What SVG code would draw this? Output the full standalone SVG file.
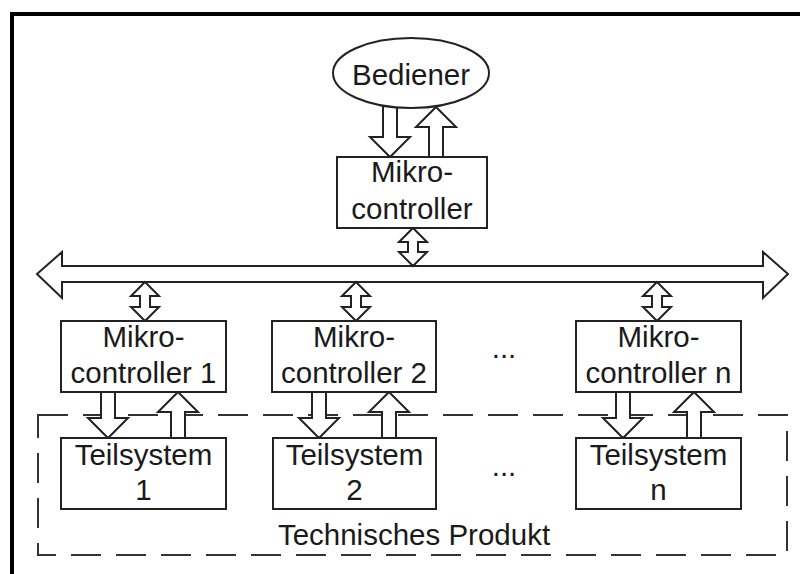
<svg xmlns="http://www.w3.org/2000/svg" width="800" height="574" viewBox="0 0 800 574">
  <style>
    .box { fill: #ffffff; stroke: #222222; stroke-width: 2; }
    .arrow { fill: #ffffff; stroke: #222222; stroke-width: 2; stroke-linejoin: miter; }
    .lbl { font-family: "Liberation Sans", Arial, sans-serif; font-size: 29.5px; fill: #1a1a1a; text-anchor: middle; }
    .frame { fill: #000000; }
    .dash { fill: none; stroke: #333333; stroke-width: 2; stroke-dasharray: 30 15; }
  </style>

  <rect width="800" height="574" fill="#ffffff"/>

  <!-- page frame (top and left edge) -->
  <rect class="frame" x="10" y="12" width="790" height="4"/>
  <rect class="frame" x="10" y="12" width="4" height="562"/>

  <!-- product boundary -->
  <g id="product">
    <rect class="dash" x="38" y="415" width="749" height="140"/>
    <text class="lbl" x="414" y="545">Technisches Produkt</text>
  </g>

  <g id="connectors">
    <!-- operator <-> main controller -->
    <polygon class="arrow" points="383,100 397,100 397,137 410,137 390,157 370,137 383,137"/>
    <polygon class="arrow" points="436,107 456,127 443,127 443,157 429,157 429,127 416,127"/>
    <!-- bus -->
    <polygon class="arrow" points="37,274 62,252 62,266 763,266 763,252 788,274 763,298 763,282 62,282 62,298"/>
    <!-- main controller <-> bus -->
    <polygon class="arrow" points="413,228 427,242 418,242 418,252 427,252 413,266 399,252 408,252 408,242 399,242"/>
    <!-- bus <-> sub-controllers -->
    <polygon class="arrow" points="145,282 159,296 150,296 150,307 159,307 145,321 131,307 140,307 140,296 131,296"/>
    <polygon class="arrow" points="356,282 370,296 361,296 361,307 370,307 356,321 342,307 351,307 351,296 342,296"/>
    <polygon class="arrow" points="657,282 671,296 662,296 662,307 671,307 657,321 643,307 652,307 652,296 643,296"/>
    <!-- controller -> subsystem (down) and subsystem -> controller (up) -->
    <polygon class="arrow" points="101,392 115,392 115,418 128,418 108,438 88,418 101,418"/>
    <polygon class="arrow" points="178,392 198,412 185,412 185,438 171,438 171,412 158,412"/>
    <polygon class="arrow" points="312,392 326,392 326,418 339,418 319,438 299,418 312,418"/>
    <polygon class="arrow" points="389,392 409,412 396,412 396,438 382,438 382,412 369,412"/>
    <polygon class="arrow" points="616,392 630,392 630,418 643,418 623,438 603,418 616,418"/>
    <polygon class="arrow" points="694,392 714,412 701,412 701,438 687,438 687,412 674,412"/>
  </g>

  <g id="bediener">
    <ellipse class="box" cx="411" cy="73" rx="78" ry="35"/>
    <text class="lbl" x="411" y="85">Bediener</text>
  </g>

  <g id="mc-main">
    <rect class="box" x="337" y="157" width="150" height="71"/>
    <text class="lbl" x="412" y="182">Mikro-</text>
    <text class="lbl" x="412" y="219">controller</text>
  </g>

  <g id="mc-1">
    <rect class="box" x="61" y="321" width="165" height="71"/>
    <text class="lbl" x="143.5" y="347">Mikro-</text>
    <text class="lbl" x="143.5" y="383">controller 1</text>
  </g>

  <g id="mc-2">
    <rect class="box" x="272" y="321" width="164" height="71"/>
    <text class="lbl" x="354" y="347">Mikro-</text>
    <text class="lbl" x="354" y="383">controller 2</text>
  </g>

  <g id="mc-dots">
    <text class="lbl" x="504" y="358">...</text>
  </g>

  <g id="mc-n">
    <rect class="box" x="576" y="321" width="165" height="71"/>
    <text class="lbl" x="658.5" y="347">Mikro-</text>
    <text class="lbl" x="658.5" y="383">controller n</text>
  </g>

  <g id="ts-1">
    <rect class="box" x="61" y="438" width="165" height="71"/>
    <text class="lbl" x="143.5" y="465">Teilsystem</text>
    <text class="lbl" x="143.5" y="500">1</text>
  </g>

  <g id="ts-2">
    <rect class="box" x="273" y="438" width="163" height="71"/>
    <text class="lbl" x="354.5" y="465">Teilsystem</text>
    <text class="lbl" x="354.5" y="500">2</text>
  </g>

  <g id="ts-dots">
    <text class="lbl" x="504" y="476">...</text>
  </g>

  <g id="ts-n">
    <rect class="box" x="576" y="438" width="165" height="71"/>
    <text class="lbl" x="658.5" y="465">Teilsystem</text>
    <text class="lbl" x="658.5" y="500">n</text>
  </g>
</svg>
